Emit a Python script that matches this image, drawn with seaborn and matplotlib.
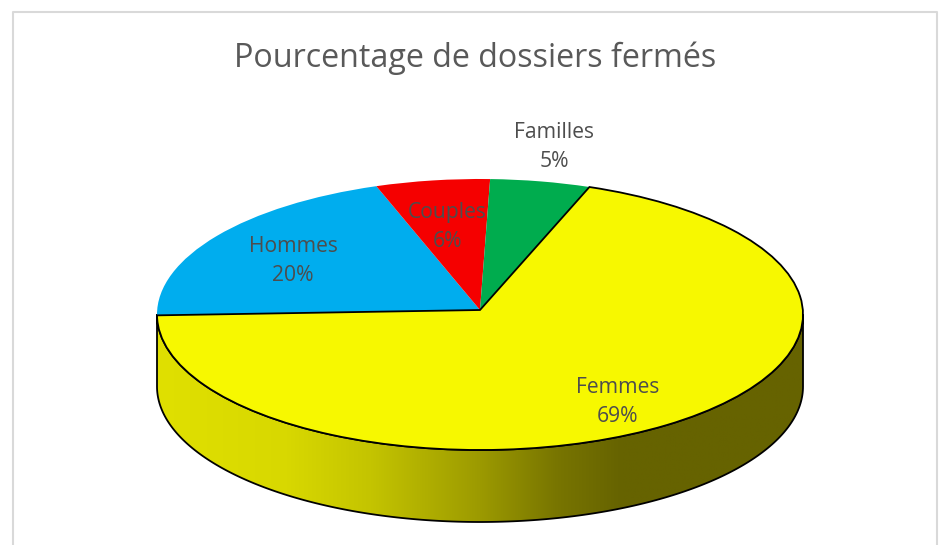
#-------------------------------------------------------
"""
# Pourcentage de dossiers fermes
Pie with a fake 3D rim: the top comes from ax.pie squashed
in y, the rim is a gradient clipped to the lower half.
"""
#-------------------------------------------------------
import numpy as np
import matplotlib
matplotlib.use('Agg')
import matplotlib.pyplot as plt
import seaborn as sns
from matplotlib.colors import LinearSegmentedColormap
from matplotlib.lines import Line2D
from matplotlib.patches import Polygon

title = 'Pourcentage de dossiers fermés'
categories = ['Femmes', 'Hommes', 'Couples', 'Familles']
values = [69.4, 19.9, 5.7, 5.0]
slice_colors = ['#F7F800', '#00ADEE', '#F50000', '#00AC4E']

W, H = 943, 545
CX, CY = 480, 314.5     # centre of the top ellipse, pixels
RX, RY = 323, 135.5
DEPTH = 72
APEX_SHIFT = 4.5        # the apex sits a little above the centre (perspective)

label_xy = [(618, 402), (293, 261), (447, 227), (554, 147)]
rim_stops = [(0.0, '#E0E000'), (0.2, '#D8D800'), (0.33, '#C4C400'),
             (0.5, '#9C9A00'), (0.62, '#787500'), (0.72, '#666300'),
             (1.0, '#666300')]


#-------------------------------------------------------
def main():
    sns.set_theme(style = 'white')
    plt.rcParams['font.family'] = ['Open Sans', 'DejaVu Sans']
    fig = plt.figure(figsize = (W / 100, H / 100), dpi = 100)
    ax = fig.add_axes([0, 0, 1, 1])

    wedges, _ = ax.pie(values, colors = slice_colors, startangle = 70.2,
                       counterclock = False, normalize = True)
    ax.set_aspect('auto')

    # pixel-like limits so that the unit circle lands on the ellipse
    xlim = (-CX / RX, (W - CX) / RX)
    ylim = (-(H - CY) / RY, CY / RY)

    for w in wedges:
        path = w.get_path()
        at_centre = np.all(np.isclose(path.vertices, 0), axis = 1)
        path.vertices[at_centre, 1] += APEX_SHIFT / RY
        w.set_linewidth(0)
        w.set_zorder(3)
    wedges[0].set_zorder(4)
    wedges[0].set_edgecolor('black')
    wedges[0].set_linewidth(1.3)

    # rim
    t = np.linspace(np.pi, 2 * np.pi, 200)
    d = DEPTH / RY
    top = np.column_stack([np.cos(t), np.sin(t)])
    bottom = np.column_stack([np.cos(t), np.sin(t) - d])
    rim = Polygon(np.vstack([top, bottom[::-1]]), closed = True,
                  fc = 'none', ec = 'black', lw = 1.3, zorder = 2)
    ax.add_patch(rim)
    cmap = LinearSegmentedColormap.from_list('rim', rim_stops)
    im = ax.imshow(np.linspace(0, 1, 256).reshape(1, -1), cmap = cmap,
                   extent = (-1, 1, -1 - d, 0), aspect = 'auto', zorder = 1)
    im.set_clip_path(rim)
    ax.set_xlim(xlim)
    ax.set_ylim(ylim)
    ax.set_xticks([])
    ax.set_yticks([])
    ax.axis('off')

    for cat, val, (px, py) in zip(categories, values, label_xy):
        fig.text(px / W, 1 - py / H, f'{cat}\n{val:.0f}%', color = '#4D4D4D',
                 fontsize = 15.2, ha = 'center', va = 'center',
                 linespacing = 1.52, zorder = 6)

    fig.text(475 / W, 1 - 58 / H, title, color = '#595959', fontsize = 23.2,
             ha = 'center', va = 'center')

    # chart frame, open at the bottom
    frame = Line2D(np.array([12.5, 12.5, 937, 937]) / W,
                   1 - np.array([H, 11.5, 11.5, H]) / H,
                   color = '#D9D9D9', lw = 1.5, transform = fig.transFigure)
    fig.add_artist(frame)

    fig.savefig('out.png', dpi = 100, facecolor = 'white')


#-------------------------------------------------------
if __name__ == '__main__':
    main()
